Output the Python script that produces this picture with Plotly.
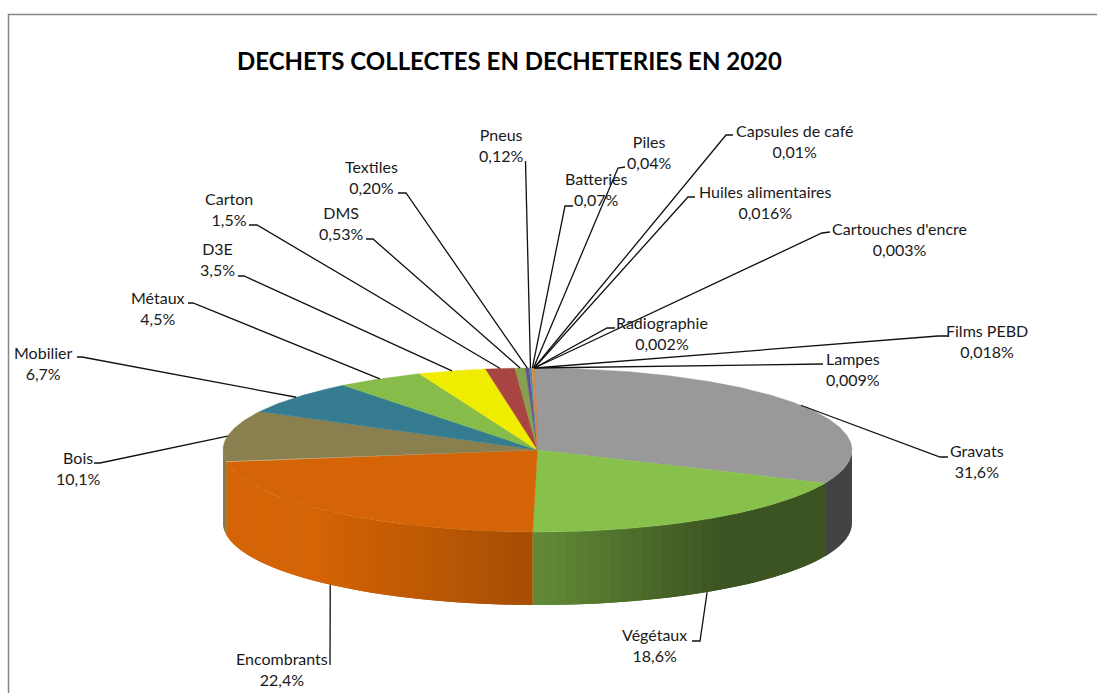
import numpy as np
import plotly.graph_objects as go

# ---------- data ----------
categories = ["Gravats", "Végétaux", "Encombrants", "Bois", "Mobilier", "Métaux", "D3E", "Carton",
              "DMS", "Textiles", "Pneus", "Batteries", "Piles", "Capsules de café",
              "Huiles alimentaires", "Cartouches d'encre", "Radiographie", "Films PEBD", "Lampes"]
values = [31.6, 18.6, 22.4, 10.1, 6.7, 4.5, 3.5, 1.5,
          0.53, 0.20, 0.12, 0.07, 0.04, 0.01,
          0.016, 0.003, 0.002, 0.018, 0.009]
value_labels = ["31,6%", "18,6%", "22,4%", "10,1%", "6,7%", "4,5%", "3,5%", "1,5%",
                "0,53%", "0,20%", "0,12%", "0,07%", "0,04%", "0,01%",
                "0,016%", "0,003%", "0,002%", "0,018%", "0,009%"]
colors = ["#999999", "#88C04C", "#D46405", "#8A7F4E", "#367C91", "#88BC4A", "#F0EC00", "#A84442",
          "#85A04E", "#6B5090", "#3C8FA8", "#E08A3C", "#E08A3C", "#D08A50",
          "#D08A50", "#D08A50", "#D08A50", "#D08A50", "#C08060"]

TITLE = "DECHETS COLLECTES EN DECHETERIES EN 2020"

# ---------- layout of the picture (pixels) ----------
CX, CY, RX, RY, DEPTH = 537.5, 450.0, 314.5, 82.0, 73.0
label_pos = {  # label centre
    "Gravats": (977, 461), "Végétaux": (654, 645), "Encombrants": (282, 669), "Bois": (78, 468),
    "Mobilier": (43, 363), "Métaux": (158, 308), "D3E": (217, 259), "Carton": (229, 209),
    "DMS": (341, 223), "Textiles": (371, 177), "Pneus": (501, 145), "Batteries": (596, 189),
    "Piles": (649, 152), "Capsules de café": (794, 141), "Huiles alimentaires": (765, 202),
    "Cartouches d'encre": (899, 239), "Radiographie": (662, 333), "Films PEBD": (987, 341),
    "Lampes": (853, 369),
}
leader_start = {  # label end, elbow
    "Gravats": [(948, 457), (940, 457)], "Végétaux": [(692, 641), (700, 641)],
    "Encombrants": [(330, 665)], "Bois": [(94, 463), (100, 463)],
    "Mobilier": [(77, 357), (82, 357)], "Métaux": [(188, 303), (193, 303)],
    "D3E": [(238, 276), (244, 276)], "Carton": [(249, 225), (257, 225)],
    "DMS": [(366, 239), (373, 239)], "Textiles": [(398, 193), (406, 193)],
    "Pneus": [(525.5, 161)], "Batteries": [(573, 206), (565, 206)],
    "Piles": [(625, 167), (618, 168)], "Capsules de café": [(733, 135), (726, 135)],
    "Huiles alimentaires": [(695, 197), (688, 197)], "Cartouches d'encre": [(830, 232), (822, 233)],
    "Radiographie": [(615, 328), (607, 328)], "Films PEBD": [(948, 336), (938, 336)],
    "Lampes": [(823, 364)],
}

total = sum(values)
edges = np.concatenate([[0], np.cumsum(values)]) / total * 2 * np.pi


def rim(a):
    # ellipse, with the slight skew of the perspective at the back of the pie
    skew = 2.5 * np.clip(np.cos(a), 0, None) ** 4
    return CX + RX * np.sin(a) - skew, CY - RY * np.cos(a)


def shade(hex_color, f):
    r, g, b = (int(hex_color[i:i + 2], 16) for i in (1, 3, 5))
    return f"rgb({int(r * f)},{int(g * f)},{int(b * f)})"


def side_factor(name, x):
    if name == "Encombrants":
        return float(np.interp(x, [226, 320, 533], [1.0, 1.0, 0.78]))
    if name == "Végétaux":
        return float(np.interp(x, [533, 720], [0.73, 0.44]))
    if name == "Gravats":
        return 0.44
    return 0.96


fig = go.Figure()

# side wall, front half only, in strips that overlap the next one to avoid seams
for i, name in enumerate(categories):
    a0, a1 = max(edges[i], np.pi / 2), min(edges[i + 1], 3 * np.pi / 2)
    if a1 <= a0:
        continue
    n = max(1, int(np.degrees(a1 - a0) / 2.0))
    steps = np.linspace(a0, a1, n + 1)
    for k in range(n):
        s0, s1 = steps[k], steps[min(k + 2, n)]
        x0, y0 = rim(s0)
        xm, _ = rim(steps[k + 1])
        x1, y1 = rim(s1)
        col = shade(colors[i], side_factor(name, (x0 + xm) / 2))
        fig.add_trace(go.Scatter(
            x=[x0, x1, x1, x0, x0], y=[y0, y1, y1 + DEPTH, y0 + DEPTH, y0],
            mode="lines", fill="toself", fillcolor=col, line=dict(width=0),
            hoverinfo="skip", showlegend=False))

# top face
for i, name in enumerate(categories):
    n = max(2, int(np.degrees(edges[i + 1] - edges[i]) / 0.5))
    a = np.linspace(edges[i], edges[i + 1], n + 1)
    xs, ys = rim(a)
    fig.add_trace(go.Scatter(
        x=[CX, *xs, CX], y=[CY, *ys, CY], mode="lines", fill="toself",
        fillcolor=colors[i], line=dict(color=colors[i], width=0.4),
        name=name, hoverinfo="name", showlegend=False))

# leader lines: end on the rim at each slice's middle angle
lx, ly = [], []
for i, name in enumerate(categories):
    mid = (edges[i] + edges[i + 1]) / 2
    ex, ey = rim(mid)
    if np.cos(mid) < 0:
        ey += DEPTH
    for px, py in leader_start[name]:
        lx.append(px)
        ly.append(py)
    lx += [ex, None]
    ly += [ey, None]
fig.add_trace(go.Scatter(x=lx, y=ly, mode="lines", line=dict(color="#111111", width=1.3),
                         hoverinfo="skip", showlegend=False))

for name, txt in zip(categories, value_labels):
    x, y = label_pos[name]
    fig.add_annotation(x=x, y=y, xref="x", yref="y", text=f"{name}<br>{txt}", showarrow=False,
                       xanchor="center", yanchor="middle", align="center",
                       font=dict(family="Lato", size=16, color="#1a1a1a"))

fig.update_layout(
    width=1097, height=693, margin=dict(l=0, r=0, t=0, b=0),
    paper_bgcolor="white", plot_bgcolor="white", showlegend=False,
    title=dict(text=f"<b>{TITLE}</b>", x=509.5 / 1097, xanchor="center", xref="paper",
               y=1 - 62 / 693, yanchor="middle", yref="container",
               font=dict(family="Lato", size=24, color="#000000")),
    xaxis=dict(range=[0, 1097], visible=False, fixedrange=True),
    yaxis=dict(range=[693, 0], visible=False, fixedrange=True),
    shapes=[dict(type="path", path="M 8.5 693 L 8.5 14.5 L 1097 14.5", xref="x", yref="y",
                 line=dict(color="#868686", width=1.5))],
)

fig.write_html("out.html", config={"displayModeBar": False},
               post_script="document.body.style.margin='0';")
